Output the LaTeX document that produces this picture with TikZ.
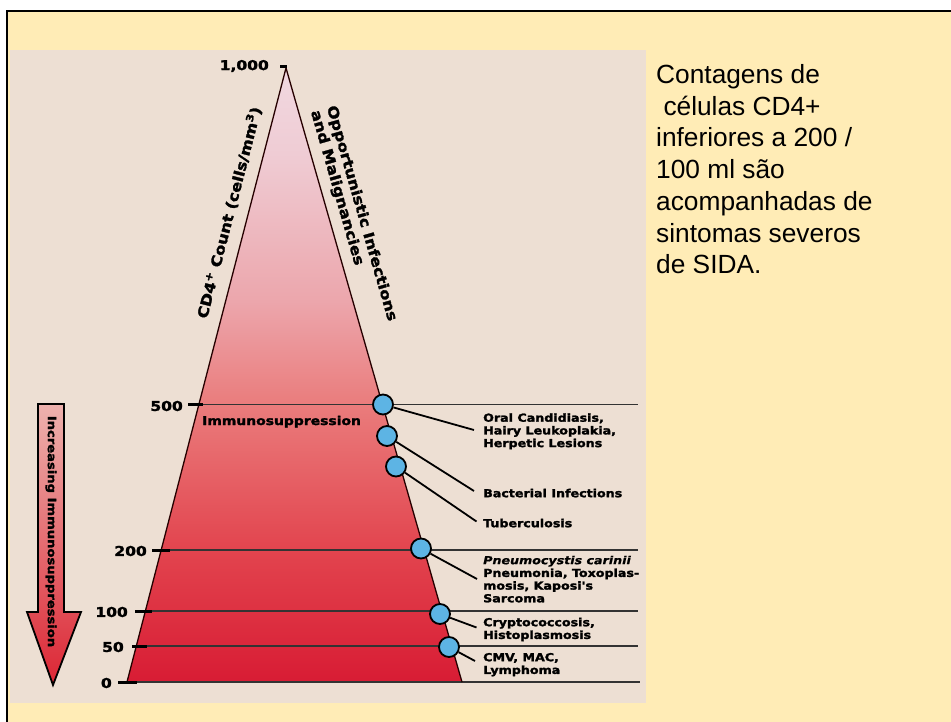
\documentclass[tikz,border=0pt]{standalone}
\usepackage{fontspec}
\setmainfont{Liberation Sans}
\newfontfamily\figfont[FakeStretch=1.15, BoldFeatures={FakeBold=2}, BoldItalicFeatures={FakeBold=0.8}]{DejaVu Sans}
\definecolor{bgyellow}{RGB}{255,236,182}
\definecolor{photo}{RGB}{237,223,211}
\definecolor{tB}{RGB}{216,28,52}
\definecolor{tC}{RGB}{226,68,78}
\definecolor{tD}{RGB}{234,124,124}
\definecolor{tE}{RGB}{236,166,172}
\definecolor{tF}{RGB}{239,204,212}
\definecolor{tT}{RGB}{241,216,224}
\definecolor{arrTop}{RGB}{237,178,174}
\definecolor{arrMid}{RGB}{231,112,108}
\definecolor{arrBot}{RGB}{220,38,52}
\definecolor{dotblue}{RGB}{93,180,228}
\pgfdeclareverticalshading{trishade}{100bp}{color(0bp)=(tB); color(25bp)=(tB); color(35.7bp)=(tC); color(47.6bp)=(tD); color(56bp)=(tE); color(68bp)=(tF); color(75bp)=(tT); color(100bp)=(tT)}
\newcommand{\firstln}{\rule{0pt}{9pt}}
\newcommand{\firstbig}{\rule{0pt}{20pt}}
\newcommand{\firstrot}{\rule{0pt}{11pt}}
\begin{document}
\begin{tikzpicture}[x=1pt,y=-1pt,
  axisnum/.style={inner sep=0pt, anchor=east, font=\figfont\fontsize{13.5}{15}\selectfont\bfseries},
  disease/.style={inner sep=0pt, anchor=north west, align=left, font=\figfont\fontsize{11}{12.7}\selectfont\bfseries},
  rottext/.style={inner sep=0pt, font=\figfont\fontsize{14.2}{16.6}\selectfont\bfseries},
  dot/.style={circle, draw=black, line width=1.8pt, fill=dotblue, minimum size=20pt, inner sep=0pt},
  conn/.style={line width=1.8pt, black},
  hline/.style={line width=1.6pt, black!80},
  axtick/.style={line width=3pt, black},
  edgeline/.style={line width=1.3pt, black!85!red}]
\useasboundingbox (0,0) rectangle (951,722);
\clip (0,0) rectangle (951,722);
\fill[white] (0,0) rectangle (951,722);
\fill[bgyellow] (7,11) rectangle (951,722);
\draw[line width=2.4pt, black] (7,730) -- (7,11) -- (960,11);
% scanned figure area
\fill[photo] (10,50) rectangle (646,703);
% triangle
\coordinate (apex) at (286,68);
\coordinate (bl) at (127,682);
\coordinate (br) at (462,682);
\shade[shading=trishade] (apex) -- (br) -- (bl) -- cycle;
% level lines
\draw[hline] (188,404.5) -- (638,404.5);
\draw[hline] (152,550) -- (638,550);
\draw[hline] (135,611) -- (638,611);
\draw[hline] (132,646) -- (638,646);
\draw[hline] (118,682) -- (640,682);
\draw[edgeline] (bl) -- (apex) -- (br);
% ticks
\draw[axtick] (280,67) -- (287,67);
\draw[axtick] (188,404.5) -- (203,404.5);
\draw[axtick] (152,550) -- (170,550);
\draw[axtick] (135,611) -- (152,611);
\draw[axtick] (132,646) -- (147,646);
\draw[axtick] (118,682) -- (137,682);
% axis numbers
\node[axisnum] (n1000) at (269,66) {1,000};
\node[axisnum] (n500) at (183,406) {500};
\node[axisnum] (n200) at (147,551) {200};
\node[axisnum] (n100) at (128,612) {100};
\node[axisnum] (n50) at (124,647) {50};
\node[axisnum] (n0) at (112,683) {0};
% rotated titles
\node[rottext, rotate=75.5] (cd4) at (229,212.5) {CD4\textsuperscript{+} Count (cells/mm\textsuperscript{3})};
\node[rottext, rotate=-74, anchor=north west, align=left] (opp) at (337.6,104) {\firstrot Opportunistic Infections\\and Malignancies};
\node[inner sep=0pt, anchor=base west, font=\figfont\fontsize{12.1}{14}\selectfont\bfseries] (immuno) at (202,425) {Immunosuppression};
% big arrow
\path[draw=black, line width=1.8pt, line join=miter, top color=arrTop, middle color=arrMid, bottom color=arrBot]
  (38,404) -- (64,404) -- (64,612) -- (81,612) -- (53,685) -- (27,612) -- (38,612) -- cycle;
\node[inner sep=0pt, rotate=-90, font=\figfont\fontsize{11.4}{13}\selectfont\bfseries] (incr) at (51,531.5) {Increasing Immunosuppression};
% connector ends
\coordinate (e1) at (474,430);
\coordinate (e2) at (474,491);
\coordinate (e3) at (476.5,521.5);
\coordinate (e4) at (477,579);
\coordinate (e5) at (476.5,627.5);
\coordinate (e6) at (475,661);
% dots
\node[dot] (c1) at (383,404.5) {};
\node[dot] (c2) at (387,436) {};
\node[dot] (c3) at (396,466.5) {};
\node[dot] (c4) at (421,548.5) {};
\node[dot] (c5) at (440,614) {};
\node[dot] (c6) at (449,647) {};
\draw[conn] (c1) -- (e1);
\draw[conn] (c2) -- (e2);
\draw[conn] (c3) -- (e3);
\draw[conn] (c4) -- (e4);
\draw[conn] (c5) -- (e5);
\draw[conn] (c6) -- (e6);
% disease labels
\node[disease] (l1) at (483,412.5) {\firstln Oral Candidiasis,\\Hairy Leukoplakia,\\Herpetic Lesions};
\node[disease] (l2) at (483,488) {\firstln Bacterial Infections};
\node[disease] (l3) at (483,518) {\firstln Tuberculosis};
\node[disease] (l4) at (483,555) {\firstln\textit{Pneumocystis carinii}\\Pneumonia, Toxoplas-\\mosis, Kaposi's\\Sarcoma};
\node[disease] (l5) at (483,617) {\firstln Cryptococcosis,\\Histoplasmosis};
\node[disease] (l6) at (483,652) {\firstln CMV, MAC,\\Lymphoma};
% side text
\node[inner sep=0pt, anchor=north west, align=left, font=\fontsize{26.3}{31.8}\selectfont] (side) at (656,63)
  {\firstbig Contagens de\\\hspace*{7.3pt}células CD4+\\inferiores a 200 /\\100 ml são\\acompanhadas de\\sintomas severos\\de SIDA.};
\end{tikzpicture}
\end{document}
